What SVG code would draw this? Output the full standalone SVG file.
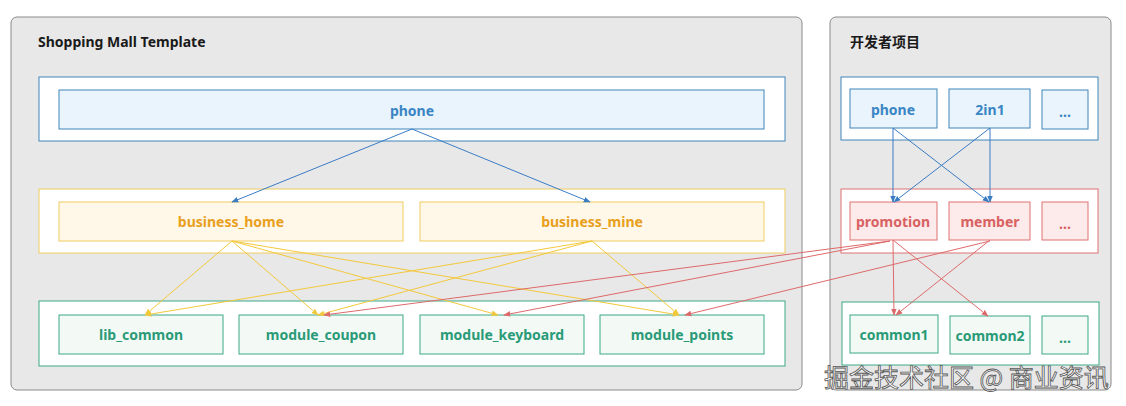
<svg xmlns="http://www.w3.org/2000/svg" width="1126" height="406" viewBox="0 0 1126 406">
<style>
.panel{fill:#e8e8e8;stroke:#8a8a8a;stroke-width:1}
.title{font-family:"Noto Sans","Noto Sans CJK SC",sans-serif;font-weight:bold;font-size:14px;fill:#1a1a1a}
.row{fill:#ffffff;stroke-width:1}
.t{font-family:"Noto Sans","Noto Sans CJK SC",sans-serif;font-weight:bold;font-size:14px;text-anchor:middle;dominant-baseline:central}
.b .row,.b rect.n{stroke:#3f86b8}
.b rect.n{fill:#eaf4fd}
.b text{fill:#3a86c4}
.y .row,.y rect.n{stroke:#f0cc60}
.y rect.n{fill:#fff7e8}
.y text{fill:#e8a020}
.g .row,.g rect.n{stroke:#3aa888}
.g rect.n{fill:#f3faf6}
.g text{fill:#2a9a78}
.r .row,.r rect.n{stroke:#e07272}
.r rect.n{fill:#fdeaea}
.r text{fill:#d86262}
.cb{stroke:#3a7cc4;fill:none;stroke-width:1}
.cy{stroke:#f2c83c;fill:none;stroke-width:1}
.cr{stroke:#dd6a6a;fill:none;stroke-width:1}
.wm{font-family:"Noto Sans CJK SC",sans-serif;font-size:25px;fill:#ffffff;stroke:#555555;stroke-width:0.8}
</style>
<defs>
<marker id="ab" viewBox="0 0 10 10" refX="9" refY="5" markerWidth="7" markerHeight="7" orient="auto"><path d="M0,1 L10,5 L0,9 z" fill="#3a7cc4"/></marker>
<marker id="ay" viewBox="0 0 10 10" refX="9" refY="5" markerWidth="7" markerHeight="7" orient="auto"><path d="M0,1 L10,5 L0,9 z" fill="#f2c83c"/></marker>
<marker id="ar" viewBox="0 0 10 10" refX="9" refY="5" markerWidth="7" markerHeight="7" orient="auto"><path d="M0,1 L10,5 L0,9 z" fill="#dd6a6a"/></marker>
</defs>
<rect width="1126" height="406" fill="#ffffff"/>

<g id="panel-left">
<rect class="panel" x="11" y="17" width="791" height="373" rx="6"/>
<text class="title" x="38" y="47">Shopping Mall Template</text>
</g>
<g id="panel-right">
<rect class="panel" x="830" y="17" width="281" height="373" rx="6"/>
<text class="title" x="850" y="47">开发者项目</text>
</g>

<g id="row-phone" class="b"><rect class="row" x="39" y="77" width="746" height="64"/></g>
<g id="row-business" class="y"><rect class="row" x="39" y="189" width="746" height="64"/></g>
<g id="row-modules" class="g"><rect class="row" x="39" y="301" width="746" height="65"/></g>
<g id="row-dev-app" class="b"><rect class="row" x="841" y="77" width="257" height="63"/></g>
<g id="row-dev-feature" class="r"><rect class="row" x="841" y="189" width="257" height="64"/></g>
<g id="row-dev-common" class="g"><rect class="row" x="842" y="302" width="257" height="63"/></g>

<g id="phone" class="b"><rect class="n" x="59" y="90" width="705" height="39"/><text class="t" x="412" y="110">phone</text></g>
<g id="business_home" class="y"><rect class="n" x="59" y="202" width="344" height="39"/><text class="t" x="231" y="221">business_home</text></g>
<g id="business_mine" class="y"><rect class="n" x="420" y="202" width="344" height="39"/><text class="t" x="592" y="221">business_mine</text></g>
<g id="lib_common" class="g"><rect class="n" x="59" y="315" width="164" height="39"/><text class="t" x="141" y="334">lib_common</text></g>
<g id="module_coupon" class="g"><rect class="n" x="239" y="315" width="164" height="39"/><text class="t" x="321" y="334">module_coupon</text></g>
<g id="module_keyboard" class="g"><rect class="n" x="420" y="315" width="164" height="39"/><text class="t" x="502" y="334">module_keyboard</text></g>
<g id="module_points" class="g"><rect class="n" x="600" y="315" width="164" height="39"/><text class="t" x="682" y="334">module_points</text></g>

<g id="dev-phone" class="b"><rect class="n" x="850" y="89" width="87" height="39"/><text class="t" x="893" y="109">phone</text></g>
<g id="dev-2in1" class="b"><rect class="n" x="949" y="89" width="81" height="39"/><text class="t" x="990" y="109">2in1</text></g>
<g id="dev-app-more" class="b"><rect class="n" x="1042" y="90" width="46" height="39"/><text class="t" x="1065" y="111">...</text></g>
<g id="promotion" class="r"><rect class="n" x="850" y="202" width="87" height="38"/><text class="t" x="893" y="221">promotion</text></g>
<g id="member" class="r"><rect class="n" x="949" y="202" width="81" height="38"/><text class="t" x="990" y="221">member</text></g>
<g id="dev-feature-more" class="r"><rect class="n" x="1042" y="202" width="46" height="38"/><text class="t" x="1065" y="223">...</text></g>
<g id="common1" class="g"><rect class="n" x="850" y="315" width="88" height="38"/><text class="t" x="894" y="334">common1</text></g>
<g id="common2" class="g"><rect class="n" x="950" y="316" width="80" height="38"/><text class="t" x="990" y="335">common2</text></g>
<g id="dev-common-more" class="g"><rect class="n" x="1042" y="316" width="46" height="38"/><text class="t" x="1065" y="337">...</text></g>

<g id="connectors">
<line class="cb" x1="412" y1="129" x2="232" y2="202" marker-end="url(#ab)"/>
<line class="cb" x1="412" y1="129" x2="590" y2="202" marker-end="url(#ab)"/>
<line class="cy" x1="232" y1="241" x2="145" y2="315" marker-end="url(#ay)"/>
<line class="cy" x1="232" y1="241" x2="318" y2="315" marker-end="url(#ay)"/>
<line class="cy" x1="232" y1="241" x2="498" y2="315" marker-end="url(#ay)"/>
<line class="cy" x1="232" y1="241" x2="679" y2="315" marker-end="url(#ay)"/>
<line class="cy" x1="592" y1="241" x2="145" y2="315" marker-end="url(#ay)"/>
<line class="cy" x1="592" y1="241" x2="318" y2="315" marker-end="url(#ay)"/>
<line class="cy" x1="592" y1="241" x2="679" y2="315" marker-end="url(#ay)"/>
<line class="cr" x1="890" y1="241" x2="324" y2="315" marker-end="url(#ar)"/>
<line class="cr" x1="890" y1="241" x2="504" y2="315" marker-end="url(#ar)"/>
<line class="cr" x1="990" y1="241" x2="685" y2="315" marker-end="url(#ar)"/>
<line class="cr" x1="893" y1="240" x2="894" y2="315" marker-end="url(#ar)"/>
<line class="cr" x1="893" y1="240" x2="988" y2="316" marker-end="url(#ar)"/>
<line class="cr" x1="990" y1="240" x2="896" y2="315" marker-end="url(#ar)"/>
<line class="cb" x1="893" y1="128" x2="893" y2="202" marker-end="url(#ab)"/>
<line class="cb" x1="893" y1="128" x2="989" y2="202" marker-end="url(#ab)"/>
<line class="cb" x1="990" y1="128" x2="894" y2="202" marker-end="url(#ab)"/>
<line class="cb" x1="990" y1="128" x2="990" y2="202" marker-end="url(#ab)"/>
</g>

<text class="wm" x="824" y="387">掘金技术社区 @ 商业资讯</text>
</svg>
